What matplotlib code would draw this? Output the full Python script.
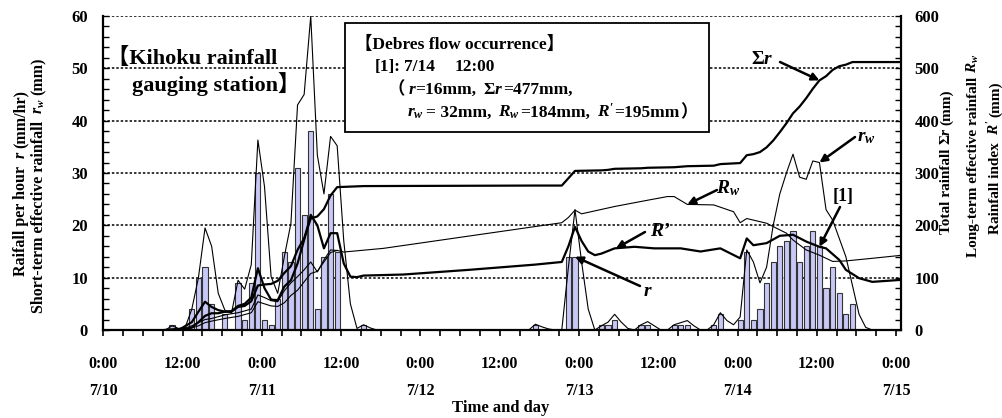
import numpy as np
import matplotlib.pyplot as plt
from matplotlib.patches import Rectangle

plt.rcParams['font.family'] = ['Liberation Serif', 'Noto Sans CJK JP']
plt.rcParams['font.weight'] = 'bold'
plt.rcParams['mathtext.fontset'] = 'custom'
plt.rcParams['mathtext.rm'] = 'Liberation Serif:bold'
plt.rcParams['mathtext.it'] = 'Liberation Serif:italic:bold'
plt.rcParams['mathtext.bf'] = 'Liberation Serif:bold'

# hours counted from 0:00 7/10
rain_hour = [10, 13, 14, 15, 16, 18, 20, 21, 22, 23, 24, 25, 26, 27, 28, 29, 30, 31, 32, 33, 34, 35, 39,
             65, 70, 71, 75, 76, 77, 81, 82, 86, 87, 88, 92, 93,
             96, 97, 98, 99, 100, 101, 102, 103, 104, 105, 106, 107, 108, 109, 110, 111, 112, 113]
rain_mm = [1, 4, 10, 12, 5, 3, 9, 2, 9, 30, 2, 1, 6, 15, 13, 31, 22, 38, 4, 14, 26, 15, 1,
           1, 14, 14, 1, 1, 2, 1, 1, 1, 1, 1, 1, 3,
           2, 15, 2, 4, 9, 13, 16, 17, 19, 13, 16, 19, 16, 8, 12, 7, 3, 5]

# short-term effective rainfall r_w (mm)
rw_hour = [9, 10, 11, 12, 13, 14, 15, 16, 17, 18, 19, 20, 21, 22, 23, 24, 25, 26, 27, 28, 29, 30, 31,
           32, 33, 34, 35, 36, 37, 38, 39, 40, 41, 64, 65, 66, 67, 68, 69, 70, 71, 72, 73, 74,
           75, 76, 77, 78, 79, 80, 81, 82, 83, 84, 85, 86, 87, 88, 89, 90, 91, 92, 93, 94, 95,
           96, 97, 98, 99, 100, 101, 102, 103, 104, 105, 106, 107, 108, 109, 110, 111, 112, 113,
           114, 115, 116, 120.6]
rw_mm = [0, 0.8, 0.3, 0.5, 4, 10, 19.5, 16, 7, 3.8, 3.2, 9.5, 7.8, 12.5, 36.3, 27.4, 10.2, 7, 14, 20.4, 43, 45, 60,
         33.4, 26, 37, 35.2, 17, 5, 0.3, 1, 0.4, 0, 0, 1.1, 0.6, 0.2, 0, 0, 12, 23, 13, 4, 0,
         0.8, 1.5, 3, 1.5, 0.3, 0, 1, 1.6, 0.8, 0, 0, 1, 1.4, 1.8, 0.8, 0, 0, 1, 3.3, 1.8, 1,
         2.5, 15.3, 13, 9, 12, 20, 26, 30, 33.6, 29.2, 28.8, 32.3, 32, 23, 21, 17.5, 14, 8.5,
         3, 0.5, 0, 0]

# total rainfall sum r (mm)
sum_hour = [9, 10, 12, 13, 14, 15, 16, 17, 18, 19, 20, 21, 22, 23, 24, 25, 26, 27, 28, 29, 30, 31, 32, 33,
            34, 35, 39, 65, 69, 70, 71, 75, 76, 77, 81, 82, 86, 87, 88, 92, 93, 96, 97, 98, 99,
            100, 101, 102, 103, 104, 105, 106, 107, 108, 109, 110, 111, 112, 113, 120.6]
sum_mm = [0, 1, 1, 5, 15, 27, 32, 32, 35, 35, 44, 46, 55, 85, 87, 88, 94, 109, 122, 153, 175, 213, 217, 231,
          257, 273, 275, 276, 276, 290, 304, 305, 306, 308, 309, 310, 311, 312, 313, 314, 317, 319, 334, 336, 340,
          349, 362, 378, 395, 414, 427, 443, 461, 477, 485, 497, 504, 507, 512, 512]

# long-term effective rainfall R_w (mm)
Rw_hour = [9, 12, 13, 14, 15, 16, 18, 20, 22, 23, 24, 25, 26, 27, 28, 29, 30, 31, 32, 33, 34, 35, 36, 42,
           69, 70, 71, 72, 77, 82, 85, 86, 88, 92, 95, 96, 97, 100, 103, 104, 106, 108, 110, 112, 116, 120.6]
Rw_mm = [0, 4, 8, 14, 20, 22, 29, 33, 40, 67, 62, 56, 54, 75, 90, 102, 115, 130, 111, 134, 153, 152, 149, 156,
         205, 215, 229, 222, 236, 248, 255, 255, 240, 239, 226, 205, 213, 204, 185, 172, 153, 143, 131, 132, 137, 143]

Rw2_hour = [9, 13, 14, 15, 16, 18, 20, 22, 23, 24, 25, 26, 27, 28, 29, 30, 31, 32, 33, 34, 35]
Rw2_mm = [0, 4, 8, 14, 17, 22, 26, 33, 54, 50, 46, 45, 52, 66, 76, 92, 108, 112, 130, 148, 152]

# rainfall index R' (mm)
Rp_hour = [9, 11, 13, 14, 15, 16, 17, 18, 19, 20, 21, 22, 23, 24, 25, 26, 27, 28, 29, 30, 31, 32, 33, 34,
           35, 36, 37, 38, 39, 45, 55, 65, 69, 70, 71, 72, 73, 74, 75, 77, 80, 83, 87, 90, 93,
           96, 97, 98, 100, 102, 104, 106, 108, 109, 111, 112, 114, 116, 120.6]
Rp_mm = [0, 0, 15, 35, 54, 44, 38, 35, 36, 46, 50, 62, 118, 80, 58, 57, 83, 95, 127, 172, 220, 200, 156, 185,
         185, 127, 102, 101, 104, 106, 115, 125, 130, 160, 197, 170, 150, 143, 146, 156, 159, 156, 156, 150, 156,
         137, 175, 162, 166, 180, 182, 169, 159, 156, 134, 115, 99, 92, 96]

tick_hours = [0, 12, 24, 36, 48, 60, 72, 84, 96, 108, 120]
tick_text = ['0:00\n7/10', '12:00', '0:00\n7/11', '12:00', '0:00\n7/12', '12:00',
             '0:00\n7/13', '12:00', '0:00\n7/14', '12:00', '0:00\n7/15']

W, H = 1003, 418
shift = 0.4  # marks sit inside each hour slot


def fx(x):
    return x / W


def fy(y):
    return 1 - y / H


fig = plt.figure(figsize=(W / 100, H / 100), dpi=100)
ax = fig.add_axes([fx(103.3), fy(330), (900.7 - 103.3) / W, (330 - 16) / H])
ax2 = ax.twinx()


def put_runs(x, y, runs, size, vertical=False, center=False):
    # lay out plain / mathtext pieces one after another along the baseline
    rend = fig.canvas.get_renderer()
    widths = []
    for s, gap in runs:
        t = fig.text(0, 0, s, fontsize=size)
        widths.append(t.get_window_extent(rend).width + gap)
        t.remove()
    pos = -sum(widths) / 2 if center else 0
    for (s, gap), w in zip(runs, widths):
        if vertical:
            fig.text(fx(x), fy(y - pos), s, fontsize=size, rotation=90,
                     rotation_mode='anchor', ha='left', va='baseline')
        else:
            fig.text(fx(x + pos), fy(y), s, fontsize=size, ha='left', va='baseline')
        pos += w


ax.bar(np.array(rain_hour) + shift, rain_mm, width=0.78, color='#c8c8f6',
       edgecolor='#333333', linewidth=0.8, zorder=2)
ax.plot(np.array(rw_hour) + shift, rw_mm, color='k', lw=0.8, zorder=3)

ax2.plot(np.array(sum_hour) + shift, sum_mm, color='k', lw=1.6)
ax2.plot(np.array(Rw_hour) + shift, Rw_mm, color='k', lw=0.8)
ax2.plot(np.array(Rw2_hour) + shift, Rw2_mm, color='k', lw=0.8)
ax2.plot(np.array(Rp_hour) + shift, Rp_mm, color='k', lw=1.6)

ax.set_xlim(0, 120.7)
ax.set_ylim(0, 60)
ax2.set_ylim(0, 600)

ax.set_xticks(tick_hours)
ax.set_xticklabels(tick_text, fontsize=11.5, linespacing=1.9)
ax.set_xticks(np.arange(0, 121, 3), minor=True)
ax.tick_params(axis='x', which='both', direction='out', length=4, width=1.2, pad=15)

ax.set_yticks(np.arange(0, 61, 10))
ax.set_yticks(np.arange(0, 61, 2), minor=True)
ax.tick_params(axis='y', which='both', direction='in', length=4, width=1, labelsize=12, pad=11)
ax2.set_yticks(np.arange(0, 601, 100))
ax2.set_yticks(np.arange(0, 601, 20), minor=True)
ax2.tick_params(axis='y', which='both', direction='in', length=4, width=1, labelsize=12, pad=10)

ax.yaxis.grid(True, color='k', linestyle=(0, (1.6, 1.3)), lw=1.1)
ax.set_axisbelow(True)

for s in ['top', 'right']:
    ax.spines[s].set_visible(False)
for s in ['top', 'left', 'bottom']:
    ax2.spines[s].set_visible(False)
for s in [ax.spines['left'], ax.spines['bottom'], ax2.spines['right']]:
    s.set_linewidth(1.6)

# axis titles
put_runs(25, 183, [('Raifall per hour', 7), ('$r$', 3), ('(mm/hr)', 0)], 11.5, vertical=True, center=True)
put_runs(43, 185, [('Short-term effective rainfall', 7), ('$r_w$', 3), ('(mm)', 0)], 11.5, vertical=True, center=True)
put_runs(950, 162, [('Total rainfall', 4), (r'$\mathit{\Sigma r}$', 1), ('(mm)', 0)], 11, vertical=True, center=True)
put_runs(977, 155, [('Long-term effective rainfall', 4), ('$R_w$', 0)], 11, vertical=True, center=True)
put_runs(999, 158, [('Rainfall index', 8), ("$R'$", 2), ('(mm)', 0)], 11, vertical=True, center=True)
fig.text(fx(501), fy(412), 'Time and day', ha='center', va='baseline', fontsize=12)

# station name
fig.text(fx(107), fy(64), '【Kihoku rainfall', ha='left', va='baseline', fontsize=16)
fig.text(fx(132), fy(91), 'gauging station】', ha='left', va='baseline', fontsize=16)

# event box
fig.patches.append(Rectangle((fx(345), fy(131.7)), fx(709.3) - fx(345), fy(22.7) - fy(131.7),
                             transform=fig.transFigure, facecolor='white', edgecolor='k', lw=1.3))
fig.text(fx(355), fy(49), '【Debres flow occurrence】', ha='left', va='baseline', fontsize=12.5)
put_runs(375, 71, [('[1]:', 3), ('7/14', 20), ('12:00', 0)], 12.5)
put_runs(388, 94, [('（', 3), ('$r$', -2), ('=16mm,', 7), (r'$\mathit{\Sigma r}$', 0), ('=477mm,', 0)], 12.5)
put_runs(407, 117, [('$r_w$', 2), ('= 32mm,', 7), ('$R_w$', 0), ('=184mm,', 7), ("$R'$", 0), ('=195mm', 1), ('）', 0)], 12.5)

arrow = dict(arrowstyle='-|>', color='k', lw=1.8, mutation_scale=11, shrinkA=0, shrinkB=0)
lab = dict(ha='center', va='center', fontsize=14)

ax2.annotate('', xy=(108 + shift, 477), xytext=(fx(780), fy(62)), textcoords='figure fraction', arrowprops=arrow)
fig.text(fx(762), fy(60), r'$\mathit{\Sigma r}$', **lab)

ax.annotate('', xy=(108 + shift, 32), xytext=(fx(855), fy(137)), textcoords='figure fraction', arrowprops=arrow)
fig.text(fx(866), fy(137), '$r_w$', **lab)

ax2.annotate('', xy=(108 + shift, 159), xytext=(fx(840), fy(207)), textcoords='figure fraction', arrowprops=arrow)
fig.text(fx(843), fy(196), '[1]', ha='center', va='center', fontsize=13)

ax2.annotate('', xy=(88 + shift, 240), xytext=(fx(717), fy(190)), textcoords='figure fraction', arrowprops=arrow)
fig.text(fx(728), fy(188), '$R_w$', **lab)

ax2.annotate('', xy=(77.2 + shift, 156), xytext=(fx(645), fy(232)), textcoords='figure fraction', arrowprops=arrow)
fig.text(fx(660), fy(232), '$R$’', **lab)

ax.annotate('', xy=(71 + shift, 14), xytext=(fx(640), fy(286)), textcoords='figure fraction', arrowprops=arrow)
fig.text(fx(648), fy(291), '$r$', **lab)

fig.savefig('out.png', dpi=100)
